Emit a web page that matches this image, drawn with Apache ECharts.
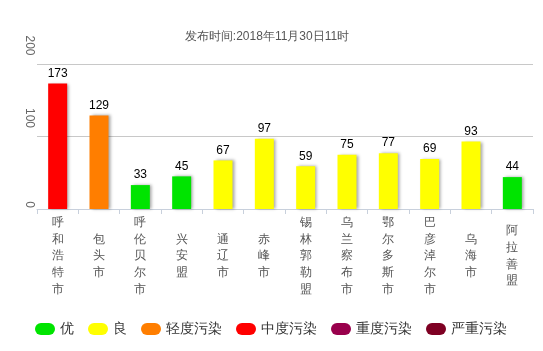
<!DOCTYPE html>
<html><head><meta charset="utf-8">
<script src="https://cdn.jsdelivr.net/npm/echarts@6/dist/echarts.min.js"></script>
<style>html,body{margin:0;padding:0;background:#fff}#c{width:543px;height:351px}</style>
</head><body><div id="c"></div>
<script>
var titleText = '发布时间:2018年11月30日11时';
var cities = ['呼和浩特市','包头市','呼伦贝尔市','兴安盟','通辽市','赤峰市','锡林郭勒盟','乌兰察布市','鄂尔多斯市','巴彦淖尔市','乌海市','阿拉善盟'];
var aqi = [173,129,33,45,67,97,59,75,77,69,93,44];
var levelNames = ['优','良','轻度污染','中度污染','重度污染','严重污染'];
var levelColors = ['#00e400','#ffff00','#ff7e00','#ff0000','#99004c','#7e0023'];
var levelUpper = [50,100,150,200,300,500];
var yTicks = [0,100,200];

function levelOf(v){ for(var i=0;i<levelUpper.length;i++){ if(v<=levelUpper[i]) return i; } return levelUpper.length-1; }

var series = levelNames.map(function(name, li){
  return {
    name: name, type: 'bar', stack: 'aqi', barWidth: 19,
    itemStyle: { color: levelColors[li], shadowColor: 'rgba(0,0,0,0.35)', shadowBlur: 3, shadowOffsetX: 2, shadowOffsetY: 0 },
    label: { show: true, position: 'top', color: '#000', fontSize: 12, distance: 4 },
    data: aqi.map(function(v){ return levelOf(v)===li ? v : '-'; })
  };
});

var chart = echarts.init(document.getElementById('c'));
chart.setOption({
  animation: false,
  title: { text: titleText, left: 262, top: 26, textAlign: 'center',
    textStyle: { fontSize: 12, fontWeight: 'normal', color: '#555' } },
  legend: { data: levelNames, left: 30, top: 317, itemWidth: 20, itemHeight: 12, itemGap: 14,
    icon: 'path://M6,0 H14 A6,6 0 0 1 14,12 H6 A6,6 0 0 1 6,0 Z',
    textStyle: { fontSize: 14, color: '#333' } },
  grid: { left: 37, right: 10, top: 64, bottom: 142, containLabel: false },
  xAxis: { type: 'category', data: cities,
    axisLine: { lineStyle: { color: '#c8d0dc' } },
    axisTick: { show: true, length: 5, lineStyle: { color: '#c8d0dc' } },
    axisLabel: { interval: 0, color: '#555', fontSize: 12, lineHeight: 16.7, verticalAlign: 'middle', margin: 47,
      formatter: function(v){ return v.split('').join('\n'); } } },
  yAxis: { type: 'value', min: yTicks[0], max: yTicks[yTicks.length-1], interval: yTicks[1]-yTicks[0],
    axisLine: { show: false }, axisTick: { show: false },
    splitLine: { lineStyle: { color: '#c8c8c8' } },
    axisLabel: { rotate: -90, color: '#666', fontSize: 12, margin: 2,
      formatter: function(v){ return String(v).length > 1 ? '{l|' + v + '}' : '{s|' + v + '}'; },
      rich: { l: { color: '#666', fontSize: 12, padding: [0, 37, 0, 0] },
              s: { color: '#666', fontSize: 12, padding: [0, 9, 0, 0] } } } },
  series: series
});
</script></body></html>
